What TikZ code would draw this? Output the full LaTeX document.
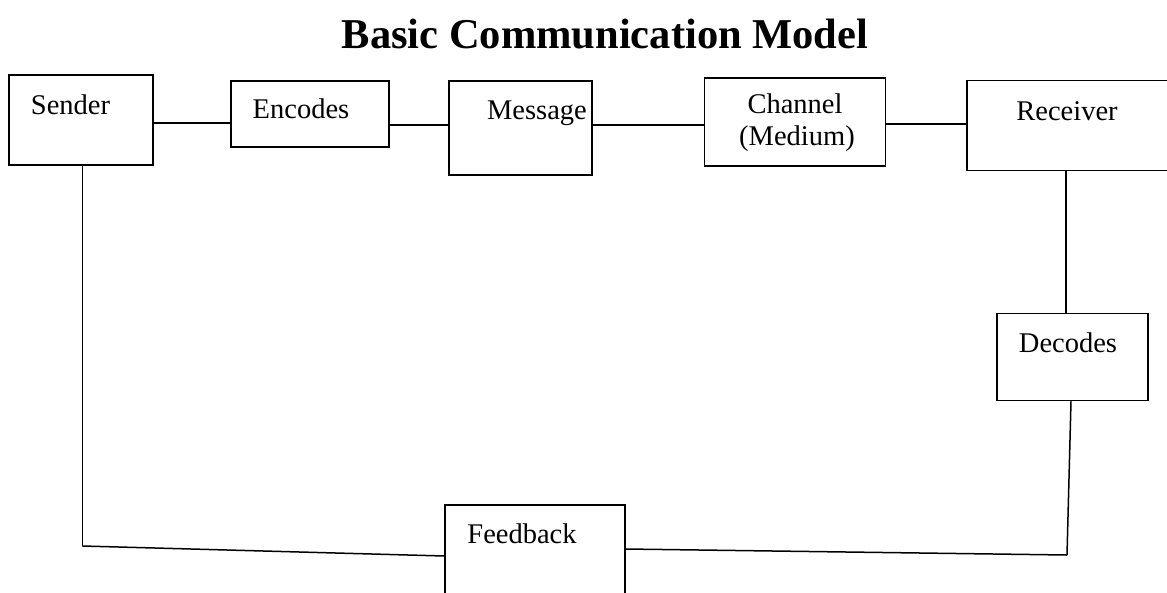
\documentclass[tikz,border=0pt]{standalone}
\usepackage{fontspec}
\setmainfont{Liberation Serif}
\begin{document}
\begin{tikzpicture}[x=1pt,y=-1pt,
  box/.style={draw, line width=1.5pt, inner sep=0pt},
  lbl/.style={font=\fontsize{28.5}{32}\selectfont, anchor=base, inner sep=0pt},
  link/.style={line width=1.5pt}]
\useasboundingbox (0,0) rectangle (1167,592);

% title
\node[font=\bfseries\fontsize{42.5}{48}\selectfont, anchor=base, inner sep=0pt] (title) at (605,48) {Basic Communication Model};

% boxes
\node[box, minimum width=144pt, minimum height=90pt]  (sender)   at (81,120) {};
\node[box, minimum width=158pt, minimum height=66pt]  (encodes)  at (310,114) {};
\node[box, minimum width=143pt, minimum height=94pt]  (message)  at (520.5,128) {};
\node[box, minimum width=181pt, minimum height=88pt]  (channel)  at (795,122) {};
\node[box, minimum width=212pt, minimum height=90pt]  (receiver) at (1073,125.5) {};
\node[box, minimum width=151pt, minimum height=87pt]  (decodes)  at (1072.5,357) {};
\node[box, minimum width=180pt, minimum height=95pt]  (feedback) at (535,552.5) {};

% box texts
\node[lbl] (tsender)   at (70.5,114) {Sender};
\node[lbl] (tencodes)  at (301,118)  {Encodes};
\node[lbl] (tmessage)  at (537,119)  {Message};
\node[lbl] (tchannel)  at (795,113)  {Channel};
\node[lbl] (tmedium)   at (797,145)  {(Medium)};
\node[lbl] (treceiver) at (1067,120) {Receiver};
\node[lbl] (tdecodes)  at (1068,352) {Decodes};
\node[lbl] (tfeedback) at (522,543)  {Feedback};

% corners of the feedback loop
\coordinate (bl) at (82.5,546);
\coordinate (br) at (1067,555);

% forward path
\draw[link] (sender.east |- 0,123) -- (encodes.west |- 0,123);
\draw[link] (encodes.east |- 0,125) -- (message.west |- 0,125);
\draw[link] (message.east |- 0,125) -- (channel.west |- 0,125);
\draw[link] (channel.east |- 0,124) -- (receiver.west |- 0,124);
\draw[link] ([xshift=-7pt]receiver.south) -- ([xshift=-6.5pt]decodes.north);

% feedback path
\draw[link] ([xshift=-1.5pt]decodes.south) -- (br);
\draw[link] (br) -- (feedback.east |- 0,549);
\draw[link] (feedback.west |- 0,556) -- (bl);
\draw[link] (bl) -- (sender.south -| 82.5,0);
\end{tikzpicture}
\end{document}
